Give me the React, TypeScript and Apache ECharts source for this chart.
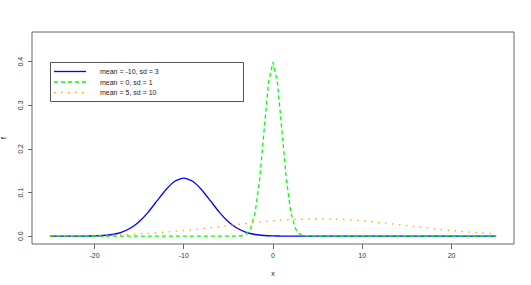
import React, { useEffect, useRef } from "react";
import * as echarts from "echarts";

// x grid for the two wide curves
const xsWide = [
  -25, -24, -23, -22, -21, -20, -19, -18, -17, -16, -15, -14, -13, -12, -11, -10, -9, -8, -7, -6, -5, -4, -3, -2, -1,
  0, 1, 2, 3, 4, 5, 6, 7, 8, 9, 10, 11, 12, 13, 14, 15, 16, 17, 18, 19, 20, 21, 22, 23, 24, 25,
];
// mean = -10, sd = 3
const fBlue = [
  0, 0, 0.00001, 0.000045, 0.00016, 0.00051, 0.00148, 0.0038, 0.00874, 0.018, 0.03316, 0.05467, 0.08066, 0.10648,
  0.12579, 0.13298, 0.12579, 0.10648, 0.08066, 0.05467, 0.03316, 0.018, 0.00874, 0.0038, 0.00148, 0.00051, 0.00016,
  0.000045, 0.00001, 0, 0, 0, 0, 0, 0, 0, 0, 0, 0, 0, 0, 0, 0, 0, 0, 0, 0, 0, 0, 0, 0,
];
// mean = 5, sd = 10
const fOrange = [
  0.000443, 0.000595, 0.000792, 0.001042, 0.001358, 0.001753, 0.002239, 0.002833, 0.003547, 0.004399, 0.005399,
  0.006562, 0.007895, 0.009405, 0.011092, 0.012952, 0.014973, 0.017138, 0.019419, 0.021785, 0.024197, 0.026609,
  0.028969, 0.031225, 0.033322, 0.035207, 0.036827, 0.038138, 0.039104, 0.039695, 0.039894, 0.039695, 0.039104,
  0.038138, 0.036827, 0.035207, 0.033322, 0.031225, 0.028969, 0.026609, 0.024197, 0.021785, 0.019419, 0.017138,
  0.014973, 0.012952, 0.011092, 0.009405, 0.007895, 0.006562, 0.005399,
];
// mean = 0, sd = 1
const xsGreen = [-25, -5, -4.5, -4, -3.5, -3, -2.5, -2, -1.5, -1, -0.5, 0, 0.5, 1, 1.5, 2, 2.5, 3, 3.5, 4, 4.5, 5, 25];
const fGreen = [
  0, 0, 0.000016, 0.00013, 0.00087, 0.00443, 0.01753, 0.05399, 0.12952, 0.24197, 0.35207, 0.39894, 0.35207, 0.24197,
  0.12952, 0.05399, 0.01753, 0.00443, 0.00087, 0.00013, 0.000016, 0, 0,
];

const seriesNames = ["mean = -10, sd = 3", "mean = 0, sd = 1", "mean = 5, sd = 10"];
const xTicks = [-20, -10, 0, 10, 20];
const yTicks = [0, 0.1, 0.2, 0.3, 0.4];

const FONT = '"Liberation Sans", Arial, Helvetica, sans-serif';
const BLUE = "#0000FF";
const GREEN = "#00FF00";
const ORANGE = "#FFA500";
const GREEN_DASH = [4, 3];
const ORANGE_DASH = [1.5, 5.5];
const LW = 1.3;

export default function App() {
  const ref = useRef<HTMLDivElement>(null);
  useEffect(() => {
    if (!ref.current) return;
    const chart = echarts.init(ref.current, undefined, { renderer: "svg" });
    const pair = (xs: number[], ys: number[]) => xs.map((x, i) => [x, ys[i]]);
    const legendRows = [
      { name: seriesNames[0], color: BLUE, dash: undefined as number[] | undefined, y: 71.5 },
      { name: seriesNames[1], color: GREEN, dash: GREEN_DASH, y: 82 },
      { name: seriesNames[2], color: ORANGE, dash: ORANGE_DASH, y: 92.5 },
    ];
    const graphic: any[] = [
      {
        type: "rect",
        shape: { x: 50.5, y: 62.5, width: 193, height: 39 },
        style: { fill: "#fff", stroke: "#555", lineWidth: 1 },
        z: 100,
      },
    ];
    legendRows.forEach((r) => {
      graphic.push({
        type: "line",
        shape: { x1: 54, y1: r.y, x2: 86, y2: r.y },
        style: { stroke: r.color, lineWidth: LW, lineDash: r.dash },
        z: 101,
      });
      graphic.push({
        type: "text",
        x: 100,
        y: r.y,
        style: { text: r.name, fontSize: 7, fontFamily: FONT, fill: "#222", verticalAlign: "middle", align: "left" },
        z: 101,
      });
    });
    chart.setOption({
      animation: false,
      grid: {
        left: 32,
        right: 17,
        top: 32,
        bottom: 41,
        show: true,
        borderColor: "#666",
        borderWidth: 1,
        containLabel: false,
        outerBoundsMode: "none",
      },
      xAxis: {
        type: "value",
        min: -27,
        max: 27,
        name: "x",
        nameLocation: "middle",
        nameGap: 26,
        nameTextStyle: { fontSize: 7, fontFamily: FONT, color: "#222" },
        axisLine: { show: false, onZero: false },
        splitLine: { show: false },
        axisTick: { show: true, length: 5, customValues: xTicks, lineStyle: { color: "#666" } },
        axisLabel: { customValues: xTicks, fontSize: 7, fontFamily: FONT, color: "#333", margin: 8 },
      },
      yAxis: {
        type: "value",
        min: -0.018,
        max: 0.468,
        name: "f",
        nameLocation: "middle",
        nameGap: 25,
        nameRotate: 90,
        nameTextStyle: { fontSize: 7, fontFamily: FONT, color: "#222" },
        axisLine: { show: false, onZero: false },
        splitLine: { show: false },
        axisTick: { show: true, length: 4, customValues: yTicks, lineStyle: { color: "#666" } },
        axisLabel: {
          customValues: yTicks,
          rotate: 90,
          fontSize: 7,
          fontFamily: FONT,
          color: "#333",
          margin: 8,
          formatter: (v: number) => v.toFixed(1),
        },
      },
      series: [
        {
          name: seriesNames[0],
          type: "line",
          data: pair(xsWide, fBlue),
          showSymbol: false,
          symbol: "none",
          smooth: 0.2,
          lineStyle: { color: BLUE, width: LW },
        },
        {
          name: seriesNames[1],
          type: "line",
          data: pair(xsGreen, fGreen),
          showSymbol: false,
          symbol: "none",
          lineStyle: { color: GREEN, width: LW, type: GREEN_DASH },
        },
        {
          name: seriesNames[2],
          type: "line",
          data: pair(xsWide, fOrange),
          showSymbol: false,
          symbol: "none",
          lineStyle: { color: ORANGE, width: LW, type: ORANGE_DASH },
        },
      ],
      graphic,
    });
    return () => chart.dispose();
  }, []);
  return <div ref={ref} style={{ position: "fixed", left: 0, top: 0, width: 531, height: 285, background: "#fff" }} />;
}
